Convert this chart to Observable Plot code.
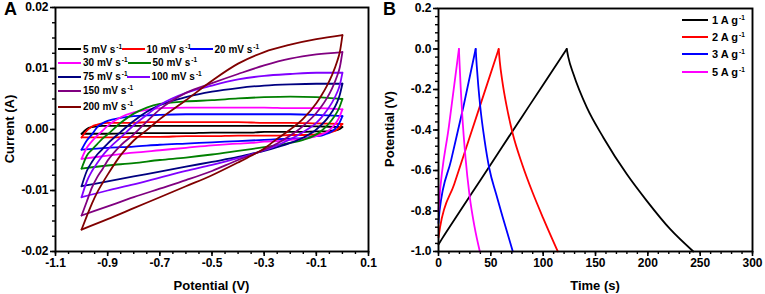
<!DOCTYPE html>
<html>
<head>
<meta charset="utf-8">
<script src="https://cdn.jsdelivr.net/npm/d3@7"></script>
<script src="https://cdn.jsdelivr.net/npm/@observablehq/plot@0.6"></script>
<style>
  body { margin: 0; background: #fff; }
  #wrap { position: relative; width: 765px; height: 294px; overflow: hidden;
          font-family: "Liberation Sans", Arial, sans-serif; font-weight: bold; color: #000; }
  #wrap svg { position: absolute; top: 0; }
  .ttl { position: absolute; font-size: 13px; white-space: nowrap; transform: translate(-50%, -50%); }
  .rot { transform: translate(-50%, -50%) rotate(-90deg); }
  .pl { position: absolute; font-size: 18px; }
  .leg { position: absolute; display: flex; align-items: center; height: 12px; white-space: nowrap; }
  .leg .sw { display: inline-block; height: 0; border-top: 2px solid; }
  .leg sup { font-size: 6.5px; position: relative; top: -4px; vertical-align: baseline; margin-left: 1px; }
</style>
</head>
<body>
<div id="wrap"></div>
<script>
// ---------- Panel A data: cyclic voltammetry ----------
const cvRates  = [5, 10, 20, 30, 50, 75, 100, 150, 200];
const cvLabels = ["5 mV s", "10 mV s", "20 mV s", "30 mV s", "50 mV s", "75 mV s", "100 mV s", "150 mV s", "200 mV s"];
const cvColors = ["#000000", "#ff0000", "#0000ff", "#ff00ff", "#008000", "#000080", "#8000ff", "#800080", "#800000"];

// anodic (upper) branch potentials, V
const upperV = [-1.0, -0.98, -0.96, -0.94, -0.92, -0.9, -0.85, -0.8, -0.75, -0.7, -0.6, -0.5, -0.4, -0.3, -0.2, -0.1, 0];
const up5   = [-0.0007, 0.0001, 0.0004, 0.0005, 0.0006, 0.0006, 0.0006, 0.0006, 0.0006, 0.0006, 0.0006, 0.0006, 0.0006, 0.0006, 0.0006, 0.0005, 0.0004];
const up10  = [-0.0013, -0.0002, 0.0005, 0.0008, 0.0010, 0.0011, 0.0011, 0.0011, 0.0012, 0.0012, 0.0012, 0.0012, 0.0012, 0.0011, 0.0011, 0.0010, 0.0009];
const up20  = [-0.0033, -0.0018, -0.0008, 0.0004, 0.0010, 0.0014, 0.0019, 0.0022, 0.0023, 0.0024, 0.0025, 0.0025, 0.0025, 0.0025, 0.0025, 0.0024, 0.0022];
const up30  = [-0.0048, -0.0030, -0.0019, -0.0010, -0.0002, 0.0006, 0.0020, 0.0028, 0.0032, 0.0035, 0.0036, 0.0036, 0.0036, 0.0036, 0.0035, 0.0035, 0.0033];
const up50  = [-0.0064, -0.0043, -0.0033, -0.0024, -0.0015, -0.0008, 0.0011, 0.0026, 0.0036, 0.0042, 0.0046, 0.0048, 0.0051, 0.0053, 0.0054, 0.0053, 0.0050];
const up75  = [-0.0093, -0.0068, -0.0053, -0.0041, -0.0032, -0.0023, -0.0004, 0.0014, 0.0029, 0.0040, 0.0053, 0.0062, 0.0068, 0.0072, 0.0074, 0.0075, 0.0075];
const up100 = [-0.0111, -0.0085, -0.0068, -0.0055, -0.0043, -0.0033, -0.0013, 0.0007, 0.0024, 0.0040, 0.0060, 0.0072, 0.0082, 0.0088, 0.0091, 0.0093, 0.0093];
const up150 = [-0.0141, -0.0118, -0.0095, -0.0078, -0.0065, -0.0051, -0.0026, -0.0008, 0.0013, 0.0033, 0.0060, 0.0076, 0.0091, 0.0105, 0.0116, 0.0123, 0.0127];
const up200 = [-0.0164, -0.0142, -0.0121, -0.0103, -0.0088, -0.0074, -0.0042, -0.0018, -0.0001, 0.0017, 0.0048, 0.0080, 0.0108, 0.0127, 0.0139, 0.0148, 0.01546];

// cathodic (lower) branch potentials, V
const lowerV = [0, -0.01, -0.02, -0.04, -0.06, -0.08, -0.1, -0.15, -0.2, -0.25, -0.3, -0.35, -0.4, -0.5, -0.6, -0.7, -0.8, -0.9, -1.0];
const lo5   = [0.0004, 0.0001, -0.0001, -0.0002, -0.0003, -0.0003, -0.0003, -0.0004, -0.0004, -0.0004, -0.0004, -0.0005, -0.0005, -0.0005, -0.0006, -0.0006, -0.0006, -0.0007, -0.0007];
const lo10  = [0.0009, 0.0004, 0.0000, -0.0004, -0.0006, -0.0007, -0.0008, -0.0009, -0.0009, -0.0010, -0.0010, -0.0010, -0.0010, -0.0011, -0.0011, -0.0012, -0.0012, -0.0013, -0.0013];
const lo20  = [0.0022, 0.0012, 0.0005, -0.0003, -0.0007, -0.0010, -0.0011, -0.0014, -0.0015, -0.0016, -0.0017, -0.0018, -0.0019, -0.0021, -0.0023, -0.0025, -0.0028, -0.0030, -0.0033];
const lo30  = [0.0033, 0.0022, 0.0014, 0.0003, -0.0004, -0.0008, -0.0011, -0.0015, -0.0017, -0.0019, -0.0020, -0.0022, -0.0023, -0.0026, -0.0030, -0.0034, -0.0038, -0.0043, -0.0048];
const lo50  = [0.0050, 0.0038, 0.0029, 0.0016, 0.0006, -0.0002, -0.0008, -0.0017, -0.0022, -0.0026, -0.0029, -0.0032, -0.0035, -0.0041, -0.0046, -0.0050, -0.0055, -0.0059, -0.0064];
const lo75  = [0.0075, 0.0057, 0.0045, 0.0029, 0.0017, 0.0008, 0.0000, -0.0013, -0.0022, -0.0029, -0.0035, -0.0040, -0.0045, -0.0053, -0.0061, -0.0069, -0.0077, -0.0085, -0.0093];
const lo100 = [0.0093, 0.0073, 0.0061, 0.0044, 0.0031, 0.0020, 0.0011, -0.0004, -0.0016, -0.0026, -0.0034, -0.0041, -0.0047, -0.0058, -0.0068, -0.0079, -0.0090, -0.0100, -0.0111];
const lo150 = [0.0127, 0.0102, 0.0088, 0.0067, 0.0051, 0.0038, 0.0027, 0.0006, -0.0010, -0.0023, -0.0033, -0.0042, -0.0050, -0.0068, -0.0083, -0.0097, -0.0111, -0.0126, -0.0141];
const lo200 = [0.01546, 0.0127, 0.0112, 0.0089, 0.0071, 0.0056, 0.0043, 0.0018, 0.0000, -0.0015, -0.0031, -0.0043, -0.0054, -0.0075, -0.0093, -0.0111, -0.0129, -0.0147, -0.0164];

const cvUpper = [up5, up10, up20, up30, up50, up75, up100, up150, up200];
const cvLower = [lo5, lo10, lo20, lo30, lo50, lo75, lo100, lo150, lo200];

const cvXTicks = [-1.1, -0.9, -0.7, -0.5, -0.3, -0.1, 0.1];
const cvYTicks = [-0.02, -0.01, 0, 0.01, 0.02];

// ---------- Panel B data: galvanostatic charge/discharge ----------
const gcdLabels = ["1 A g", "2 A g", "3 A g", "5 A g"];
const gcdColors = ["#000000", "#ff0000", "#0000ff", "#ff00ff"];
const gcdT1 = [0, 3, 20, 40, 60, 80, 100, 122.5, 124, 129, 141.8, 157.6, 180, 199, 221.4, 243.5];
const gcdV1 = [-0.965, -0.94, -0.805, -0.648, -0.49, -0.333, -0.176, 0, -0.04, -0.125, -0.29, -0.438, -0.619, -0.75, -0.89, -1.0];
const gcdT2 = [0, 1.5, 15, 30, 45, 57.5, 58.5, 61, 65, 71, 80, 90, 100, 114];
const gcdV2 = [-0.93, -0.88, -0.668, -0.432, -0.197, 0, -0.06, -0.16, -0.28, -0.42, -0.57, -0.71, -0.835, -1.0];
const gcdT3 = [0, 1, 12, 24, 35.5, 36.5, 38, 40, 44, 48.7, 55, 61.5, 71];
const gcdV3 = [-0.86, -0.80, -0.55, -0.28, 0, -0.08, -0.18, -0.29, -0.45, -0.594, -0.715, -0.833, -1.0];
const gcdT5 = [0, 0.7, 10, 19.5, 20.2, 21.2, 22.5, 25.8, 29.6, 34.5, 39.5];
const gcdV5 = [-0.80, -0.75, -0.38, 0, -0.08, -0.19, -0.31, -0.537, -0.72, -0.88, -1.0];
const gcdT = [gcdT1, gcdT2, gcdT3, gcdT5];
const gcdV = [gcdV1, gcdV2, gcdV3, gcdV5];

const gcdXTicks = [0, 50, 100, 150, 200, 250, 300];
const gcdYTicks = [0.2, 0, -0.2, -0.4, -0.6, -0.8, -1.0];

// ---------- build tables ----------
const cvRows = [];
cvRates.forEach((r, k) => {
  upperV.forEach((v, j) => cvRows.push({rate: r, branch: "a", v, cur: cvUpper[k][j]}));
  for (let idx = lowerV.length - 1; idx >= 0; idx--) {
    cvRows.push({rate: r, branch: "c", v: lowerV[idx], cur: cvLower[k][idx]});
  }
});

const gcdRows = [];
gcdLabels.forEach((lab, k) => {
  const T = gcdT[k], V = gcdV[k];
  const peak = V.indexOf(0);
  T.forEach((t, j) => {
    if (j <= peak) gcdRows.push({s: lab, seg: "ch", t, v: V[j]});
    if (j >= peak) gcdRows.push({s: lab, seg: "dis", t, v: V[j]});
  });
});

const font = "'Liberation Sans', Arial, sans-serif";
const majorOpts = {tickSize: 5, strokeWidth: 1.6, tickPadding: 2, fontSize: 12, fontWeight: "bold", label: null};
const minorOpts = {tickSize: 3, strokeWidth: 1.4, tickFormat: () => "", label: null};

// ---------- Panel A ----------
const chartA = Plot.plot({
  width: 380, height: 294,
  marginLeft: 55, marginRight: 12, marginTop: 7, marginBottom: 43,
  style: {fontFamily: font, fontSize: "12px", fontWeight: "bold", background: "transparent"},
  x: {domain: [-1.1, 0.1], label: null},
  y: {domain: [-0.02, 0.02], label: null},
  color: {type: "ordinal", domain: cvRates, range: cvColors},
  marks: [
    Plot.axisX(d3.range(-1.1, 0.1001, 0.05), minorOpts),
    Plot.axisX(cvXTicks, {...majorOpts, tickFormat: d => d.toFixed(1)}),
    Plot.axisY(d3.range(-0.02, 0.02001, 0.0025), minorOpts),
    Plot.axisY(cvYTicks, {...majorOpts, tickFormat: d => d.toFixed(2)}),
    Plot.line(cvRows, {x: "v", y: "cur", z: d => d.rate + d.branch, stroke: "rate", strokeWidth: 1.8, curve: "monotone-x"}),
    Plot.frame({strokeWidth: 1.9})
  ]
});
chartA.style.left = "0px";

// ---------- Panel B ----------
const chartB = Plot.plot({
  width: 385, height: 294,
  marginLeft: 58, marginRight: 13, marginTop: 8, marginBottom: 43,
  style: {fontFamily: font, fontSize: "12px", fontWeight: "bold", background: "transparent"},
  x: {domain: [0, 300], label: null},
  y: {domain: [-1.0, 0.2], label: null},
  color: {type: "ordinal", domain: gcdLabels, range: gcdColors},
  marks: [
    Plot.axisX(d3.range(0, 301, 10), minorOpts),
    Plot.axisX(gcdXTicks, {...majorOpts, tickFormat: d => String(d)}),
    Plot.axisY(d3.range(-1.0, 0.2001, 0.04), minorOpts),
    Plot.axisY(gcdYTicks, {...majorOpts, tickFormat: d => d.toFixed(1)}),
    Plot.line(gcdRows, {x: "t", y: "v", z: d => d.s + d.seg, stroke: "s", strokeWidth: 1.8, curve: "monotone-x"}),
    Plot.frame({strokeWidth: 1.9})
  ]
});
chartB.style.left = "380px";

const wrap = document.getElementById("wrap");
wrap.appendChild(chartA);
wrap.appendChild(chartB);

function addDiv(cls, html, css) {
  const d = document.createElement("div");
  d.className = cls;
  d.innerHTML = html;
  Object.assign(d.style, css);
  wrap.appendChild(d);
  return d;
}

// panel letters and axis titles
addDiv("pl", "A", {left: "4px", top: "-1px"});
addDiv("pl", "B", {left: "383px", top: "-1px"});
addDiv("ttl", "Potential (V)", {left: "211.5px", top: "285px"});
addDiv("ttl rot", "Current (A)", {left: "9px", top: "129px"});
addDiv("ttl", "Time (s)", {left: "595px", top: "285px"});
addDiv("ttl rot", "Potential (V)", {left: "389px", top: "129px"});

// legend A (flow layout inside the plot)
const legA = [[58, 49.3], [121.5, 49.3], [189.5, 49.3],
              [58, 62.8], [127.5, 62.8],
              [58, 76.8], [126.5, 76.8],
              [58, 90.7], [58, 106.6]];
cvLabels.forEach((lab, k) => {
  const [x, y] = legA[k];
  addDiv("leg",
    `<span class="sw" style="width:23px;border-color:${cvColors[k]}"></span><span style="margin-left:2px;font-size:10px">${lab}<sup>-1</sup></span>`,
    {left: x + "px", top: (y - 6) + "px"});
});

// legend B
gcdLabels.forEach((lab, k) => {
  const y = 20 + k * 17.2;
  addDiv("leg",
    `<span class="sw" style="width:26px;border-color:${gcdColors[k]}"></span><span style="margin-left:4px;font-size:11px">${lab}<sup>-1</sup></span>`,
    {left: "682px", top: (y - 6) + "px"});
});
</script>
</body>
</html>
